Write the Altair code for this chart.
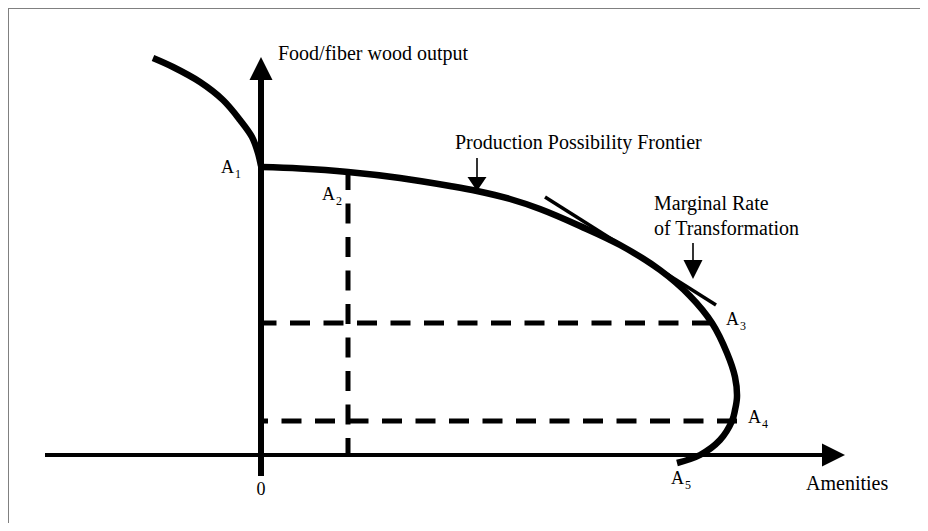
import altair as alt
import pandas as pd

# ---- diagram data (units: amenities on x, food/fiber output on y; origin at 0) ----
# upper-left branch of the frontier (ends at A1 on the output axis)
left_x = [-10.8, -8.8, -6.1, -3.8, -2.1, -0.9, -0.3, 0.0]
left_y = [39.7, 38.8, 37.3, 35.5, 33.5, 31.8, 30.2, 28.9]

# main branch of the production possibility frontier, A1 -> A5
ppf_x = [0.0, 3.9, 8.7, 13.9, 18.9, 21.6, 24.9, 27.9, 31.9, 35.9, 39.9, 42.9,
         45.1, 46.6, 47.4, 47.6, 47.4, 47.1, 45.9, 43.9, 41.6]
ppf_y = [28.8, 28.65, 28.3, 27.7, 26.9, 26.4, 25.6, 24.6, 22.9, 21.0, 18.5, 15.9,
         13.2, 10.2, 7.8, 5.8, 4.5, 3.4, 1.5, 0.0, -0.8]

# tangent (marginal rate of transformation)
mrt_x = [28.4, 45.5]
mrt_y = [25.8, 15.0]

# key points
A2 = (8.7, 28.5)
A3 = (45.1, 13.2)
A4 = (47.6, 3.4)

# axes extents
x_axis = (-21.6, 56.1)
y_axis = (-2.1, 37.5)
x_head = 57.25
y_head = 38.65

# annotation arrows (x, y_top, y_bottom, head_y)
ppf_arrow = (21.6, 29.7, 27.7, 27.1)
mrt_arrow = (43.2, 21.2, 19.3, 18.55)

# labels
label_text = ["Food/fiber wood output", "Production Possibility Frontier",
              "Marginal Rate", "of Transformation", "Amenities"]
label_x = [1.7, 19.4, 39.3, 39.3, 54.5]
label_y = [39.5, 30.6, 24.5, 22.0, -3.5]

point_names = ["A", "A", "A", "A", "A"]
point_subs = ["1", "2", "3", "4", "5"]
point_lx = [-4.0, 6.1, 46.5, 48.7, 41.0]
point_ly = [28.2, 25.5, 13.0, 3.2, -2.9]
sub_dx = 1.4
sub_dy = -0.5

zero_label = ("0", 0.0, -4.0)

# ---- scales ----
W, H = 912, 515
xs = alt.Scale(domain=[-25.3, 65.9], nice=False, zero=False)
ys = alt.Scale(domain=[-6.8, 44.7], nice=False, zero=False)
FONT = "Liberation Serif"


def X(f="x"):
    return alt.X(f"{f}:Q", scale=xs, axis=None)


def Y(f="y"):
    return alt.Y(f"{f}:Q", scale=ys, axis=None)


curve_df = pd.DataFrame({
    "x": left_x + ppf_x,
    "y": left_y + ppf_y,
    "branch": ["left"] * len(left_x) + ["main"] * len(ppf_x),
    "i": list(range(len(left_x))) + list(range(len(ppf_x))),
})
curve = alt.Chart(curve_df).mark_line(
    interpolate="catmull-rom", color="black", strokeWidth=6.5
).encode(x=X(), y=Y(), detail="branch:N", order="i:Q")

tangent = alt.Chart(pd.DataFrame({"x": [mrt_x[0]], "y": [mrt_y[0]],
                                  "x2": [mrt_x[1]], "y2": [mrt_y[1]]})).mark_rule(
    color="black", strokeWidth=3.5
).encode(x=X(), y=Y(), x2="x2:Q", y2="y2:Q")

axes_df = pd.DataFrame({
    "x": [x_axis[0], 0.0], "y": [0.0, y_axis[0]],
    "x2": [x_axis[1], 0.0], "y2": [0.0, y_axis[1]],
    "w": ["x", "y"],
})
x_ax = alt.Chart(axes_df[axes_df.w == "x"]).mark_rule(color="black", strokeWidth=4).encode(
    x=X(), y=Y(), x2="x2:Q", y2="y2:Q")
y_ax = alt.Chart(axes_df[axes_df.w == "y"]).mark_rule(color="black", strokeWidth=6).encode(
    x=X(), y=Y(), x2="x2:Q", y2="y2:Q")

x_arrow = alt.Chart(pd.DataFrame({"x": [x_head], "y": [0.0]})).mark_point(
    shape="M1,0L-1,-1L-1,1Z", filled=True, size=529, color="black", opacity=1, strokeWidth=0
).encode(x=X(), y=Y())
y_arrow = alt.Chart(pd.DataFrame({"x": [0.0], "y": [y_head]})).mark_point(
    shape="M0,-1L-1,1L1,1Z", filled=True, size=529, color="black", opacity=1, strokeWidth=0
).encode(x=X(), y=Y())

dash_df = pd.DataFrame({
    "x": [A2[0], A3[0], A4[0]],
    "y": [A2[1], A3[1], A4[1]],
    "x2": [A2[0], 0.0, 0.0],
    "y2": [0.0, A3[1], A4[1]],
})
dashes = alt.Chart(dash_df).mark_rule(
    color="black", strokeWidth=5, strokeDash=[20, 13.5]
).encode(x=X(), y=Y(), x2="x2:Q", y2="y2:Q")

arr_df = pd.DataFrame({
    "x": [ppf_arrow[0], mrt_arrow[0]],
    "y": [ppf_arrow[1], mrt_arrow[1]],
    "y2": [ppf_arrow[2], mrt_arrow[2]],
    "hy": [ppf_arrow[3], mrt_arrow[3]],
    "k": ["ppf", "mrt"],
})
arr_lines = alt.Chart(arr_df).mark_rule(color="black", strokeWidth=1.6).encode(
    x=X(), y=Y(), y2="y2:Q")
ppf_head = alt.Chart(arr_df[arr_df.k == "ppf"]).mark_point(
    shape="M-1,-0.74L1,-0.74L0,0.74Z", filled=True, size=361, color="black", opacity=1, strokeWidth=0
).encode(x=X(), y=Y("hy"))
mrt_head = alt.Chart(arr_df[arr_df.k == "mrt"]).mark_point(
    shape="M-1,-1L1,-1L0,1Z", filled=True, size=361, color="black", opacity=1, strokeWidth=0
).encode(x=X(), y=Y("hy"))

labels = alt.Chart(pd.DataFrame({"x": label_x, "y": label_y, "t": label_text})).mark_text(
    font=FONT, fontSize=20, align="left", baseline="alphabetic", color="black"
).encode(x=X(), y=Y(), text="t:N")

zero = alt.Chart(pd.DataFrame({"x": [zero_label[1]], "y": [zero_label[2]], "t": [zero_label[0]]})).mark_text(
    font=FONT, fontSize=18, align="center", baseline="alphabetic", color="black"
).encode(x=X(), y=Y(), text="t:N")

pt_df = pd.DataFrame({
    "x": point_lx, "y": point_ly, "t": point_names,
    "sx": [v + sub_dx for v in point_lx], "sy": [v + sub_dy for v in point_ly], "s": point_subs,
})
pt_main = alt.Chart(pt_df).mark_text(
    font=FONT, fontSize=18, align="left", baseline="alphabetic", color="black"
).encode(x=X(), y=Y(), text="t:N")
pt_sub = alt.Chart(pt_df).mark_text(
    font=FONT, fontSize=12, align="left", baseline="alphabetic", color="black"
).encode(x=X("sx"), y=Y("sy"), text="s:N")

frame_top = alt.Chart(pd.DataFrame({"a": [0]})).mark_rule(color="#808080", strokeWidth=2).encode(
    x=alt.value(0), x2=alt.value(W), y=alt.value(0))
frame_left = alt.Chart(pd.DataFrame({"a": [0]})).mark_rule(color="#808080", strokeWidth=2).encode(
    x=alt.value(0), y=alt.value(0), y2=alt.value(H))

chart = alt.layer(
    frame_top, frame_left,
    dashes, x_ax, y_ax, x_arrow, y_arrow,
    curve, tangent,
    arr_lines, ppf_head, mrt_head,
    labels, zero, pt_main, pt_sub,
).properties(
    width=W, height=H, padding=0, autosize=alt.AutoSizeParams(type="none")
).configure_view(stroke=None).configure(background="white")

chart.save("out.html", embed_options={"renderer": "svg", "actions": False})
